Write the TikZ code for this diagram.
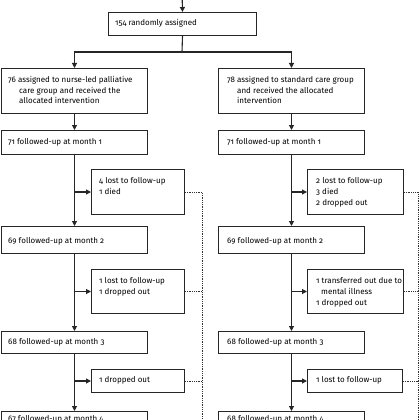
\documentclass[tikz,border=0pt]{standalone}
\usepackage{fontspec}
\setmainfont{Fira Sans}[Numbers=OldStyle]
\usetikzlibrary{arrows.meta}
\begin{document}
\begin{tikzpicture}[x=1pt,y=-1pt,
  box/.style={draw=black!85, line width=1pt, inner sep=0pt, anchor=north west},
  txt/.style={anchor=base west, inner sep=0pt, font=\fontsize{8}{9}\selectfont, text=black},
  conn/.style={line width=1.1pt, draw=black!85},
  arr/.style={conn, -{Triangle[length=5pt,width=5pt]}},
  dots/.style={line width=0.8pt, densely dotted, draw=black!80}]
\useasboundingbox (0,0) rectangle (420,420);
\clip (0,0) rectangle (420,420);
% boxes
\node[box,minimum width=148pt,minimum height=23pt] (T) at (108,12) {};
\node[box,minimum width=146pt,minimum height=45pt] (L1) at (1,68) {};
\node[box,minimum width=146pt,minimum height=45pt] (R1) at (218,68) {};
\node[box,minimum width=146pt,minimum height=24pt] (L2) at (1,130) {};
\node[box,minimum width=146pt,minimum height=24pt] (R2) at (218,130) {};
\node[box,minimum width=93pt,minimum height=45pt] (LS1) at (91,169) {};
\node[box,minimum width=96pt,minimum height=45pt] (RS1) at (307,169) {};
\node[box,minimum width=146pt,minimum height=27pt] (L3) at (1,226) {};
\node[box,minimum width=146pt,minimum height=27pt] (R3) at (218,226) {};
\node[box,minimum width=93pt,minimum height=44pt] (LS2) at (91,269) {};
\node[box,minimum width=96pt,minimum height=44pt] (RS2) at (307,269) {};
\node[box,minimum width=146pt,minimum height=22pt] (L4) at (1,331) {};
\node[box,minimum width=146pt,minimum height=22pt] (R4) at (218,331) {};
\node[box,minimum width=93pt,minimum height=23pt] (LS3) at (91,369) {};
\node[box,minimum width=95pt,minimum height=23pt] (RS3) at (307,369) {};
\node[box,minimum width=146pt,minimum height=24pt] (L5) at (1,411) {};
\node[box,minimum width=146pt,minimum height=24pt] (R5) at (218,411) {};
% texts
\node[txt] (tT) at (115,26) {154 randomly assigned};
\node[txt] (tL1a) at (8,82.8) {76 assigned to nurse-led palliative};
\node[txt] (tL1b) at (19,93.3) {care group and received the};
\node[txt] (tL1c) at (19,103.8) {allocated intervention};
\node[txt] (tR1a) at (227,82.8) {78 assigned to standard care group};
\node[txt] (tR1b) at (237,93.3) {and received the allocated};
\node[txt] (tR1c) at (237,103.8) {intervention};
\node[txt] (tL2) at (8,144.5) {71 followed-up at month 1};
\node[txt] (tR2) at (227,144.5) {71 followed-up at month 1};
\node[txt] (tLS1a) at (99,183.5) {4 lost to follow-up};
\node[txt] (tLS1b) at (99,194.5) {1 died};
\node[txt] (tRS1a) at (316,183.3) {2 lost to follow-up};
\node[txt] (tRS1b) at (316,194.6) {3 died};
\node[txt] (tRS1c) at (316,205.3) {2 dropped out};
\node[txt] (tL3) at (8,243.3) {69 followed-up at month 2};
\node[txt] (tR3) at (227,243.3) {69 followed-up at month 2};
\node[txt] (tLS2a) at (99,283.3) {1 lost to follow-up};
\node[txt] (tLS2b) at (99,294.8) {1 dropped out};
\node[txt] (tRS2a) at (316,283.3) {1 transferred out due to};
\node[txt] (tRS2b) at (321,294.3) {mental illness};
\node[txt] (tRS2c) at (316,305.3) {1 dropped out};
\node[txt] (tL4) at (8,344.3) {68 followed-up at month 3};
\node[txt] (tR4) at (227,344.3) {68 followed-up at month 3};
\node[txt] (tLS3) at (99,382.8) {1 dropped out};
\node[txt] (tRS3) at (316,382.8) {1 lost to follow-up};
\node[txt] (tL5) at (8,421) {67 followed-up at month 4};
\node[txt] (tR5) at (227,421) {68 followed-up at month 4};
% coordinates
\coordinate (topin) at (182,-10);
\coordinate (sp) at (182,52);
\coordinate (dl) at (202,0);
\coordinate (dlb) at (202,440);
\coordinate (dr) at (418,0);
\coordinate (drb) at (418,440);
% connectors
\draw[arr] (topin) -- (T.north);
\draw[conn] (T.south) -- (sp);
\draw[arr] (sp) -| (L1.north);
\draw[arr] (sp) -| (R1.north);
\draw[arr] (L1.south) -- (L2.north);
\draw[arr] (R1.south) -- (R2.north);
\draw[arr] (L2.south) -- (L3.north);
\draw[arr] (R2.south) -- (R3.north);
\draw[arr] (L3.south) -- (L4.north);
\draw[arr] (R3.south) -- (R4.north);
\draw[arr] (L4.south) -- (L5.north);
\draw[arr] (R4.south) -- (R5.north);
\draw[arr] (LS1.west -| L2.south) -- (LS1.west);
\draw[arr] (RS1.west -| R2.south) -- (RS1.west);
\draw[arr] (LS2.west -| L3.south) -- (LS2.west);
\draw[arr] (RS2.west -| R3.south) -- (RS2.west);
\draw[arr] (LS3.west -| L4.south) -- (LS3.west);
\draw[arr] (RS3.west -| R4.south) -- (RS3.west);
% dotted
\draw[dots] (LS1.east) -- (LS1.east -| dl) -- (dlb);
\draw[dots] (LS2.east) -- (LS2.east -| dl);
\draw[dots] (LS3.east) -- (LS3.east -| dl);
\draw[dots] (RS1.east) -- (RS1.east -| dr) -- (drb);
\draw[dots] (RS2.east) -- (RS2.east -| dr);
\draw[dots] (RS3.east) -- (RS3.east -| dr);
\end{tikzpicture}
\end{document}
